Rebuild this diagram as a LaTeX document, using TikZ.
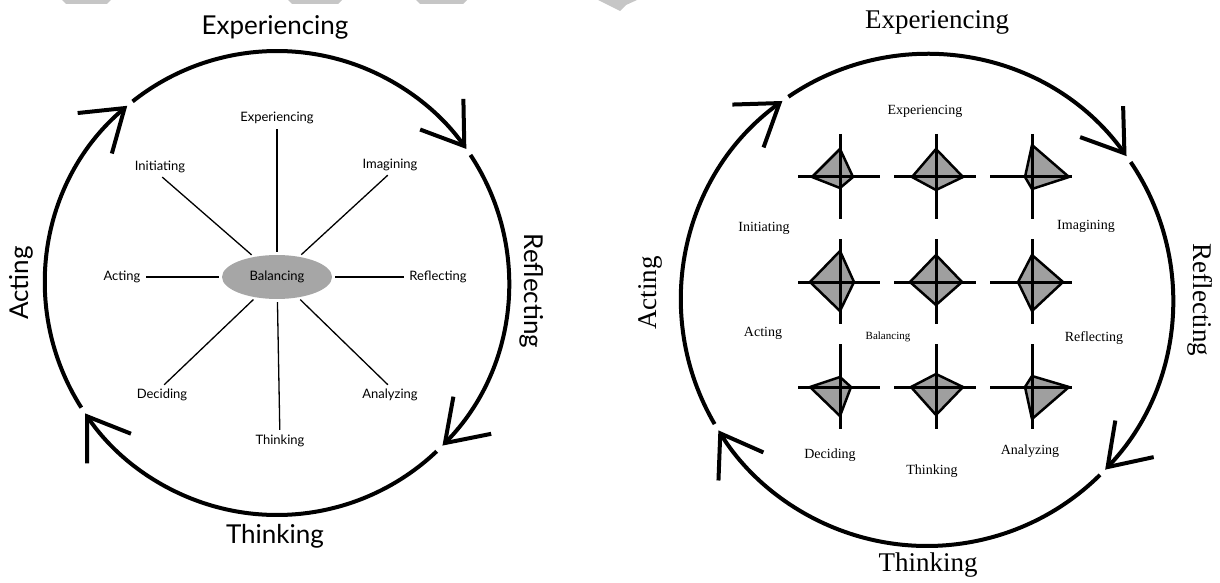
\documentclass[tikz,border=0pt]{standalone}
\usepackage{fontspec}
\setmainfont{Liberation Serif}
\newfontfamily\aptosfont{Lato}
\usetikzlibrary{arrows.meta, shapes.geometric}

\begin{document}
\begin{tikzpicture}[x=1pt, y=1pt,
    cycleArc/.style={line width=4pt, -{Straight Barb[length=39pt,width=53pt,line width=4pt]}},
    bigLabL/.style={font=\aptosfont\fontsize{26}{30}\selectfont},
    smallLabL/.style={font=\aptosfont\fontsize{13}{15}\selectfont, inner sep=2pt},
    bigLabR/.style={font=\fontsize{27}{32}\selectfont},
    smallLabR/.style={font=\fontsize{14}{16}\selectfont},
    spoke/.style={line width=1.3pt, shorten <=3pt, shorten >=3pt}]
    \useasboundingbox (0,0) rectangle (1220,582);
    % grey scraps along the top edge
    \fill[gray!45] (62,582) -- (111,582) -- (107,578) -- (66,578) -- cycle;
    \fill[gray!45] (288,582) -- (342,582) -- (338,578) -- (292,578) -- cycle;
    \fill[gray!45] (416,582) -- (467,582) -- (463,578) -- (420,578) -- cycle;
    \fill[gray!45] (598,582) -- (637,582) -- (626,577) -- (620,571) -- (610,576) -- cycle;

    % ---------- left cycle ----------
    \coordinate (cLPt) at (277,299);
    \foreach \a/\b in {212.5/130.2, 128.5/35.3, 33.5/-44.5, -46.5/-145.8}
    {
        \draw[cycleArc] (cLPt) ++(\a:232) arc[start angle=\a, end angle=\b, radius=232];
    };
    \node[bigLabL] (nExpL) at (275,555) {Experiencing};
    \node[bigLabL] (nThiL) at (275,46) {Thinking};
    \node[bigLabL, rotate=90] (nActL) at (21,299) {Acting};
    \node[bigLabL, rotate=-90] (nRefL) at (532,291) {Reflecting};

    \node[smallLabL, ellipse, fill=gray!70, minimum width=110pt, minimum height=44pt, inner sep=0pt] (nBalL) at (277,305) {Balancing};
    \foreach \n/\p/\t in
    {iExp/{(277,464)}/Experiencing,
        iIni/{(160,415)}/Initiating,
        iIma/{(390,417)}/Imagining,
        iAct/{(122,305)}/Acting,
        iRef/{(438,305)}/Reflecting,
        iDec/{(162,187)}/Deciding,
        iAna/{(390,187)}/Analyzing,
        iThi/{(280,141)}/Thinking
    }
    {
        \node[smallLabL] (\n) at \p {\t};
    };
    \draw[spoke] (nBalL) -- (iExp);
    \draw[spoke] (nBalL) -- (iIni.south);
    \draw[spoke] (nBalL) -- (iIma.south);
    \draw[spoke] (nBalL) -- (iAct);
    \draw[spoke] (nBalL) -- (iRef);
    \draw[spoke] (nBalL) -- (iDec.north);
    \draw[spoke] (nBalL) -- (iAna.north);
    \draw[spoke] (nBalL) -- (iThi);

    % ---------- right cycle ----------
    \coordinate (cRPt) at (927,282);
    \foreach \a/\b in {210.3/126, 124.3/35.8, 34.1/-43.6, -45.3/-148}
    {
        \draw[cycleArc] (cRPt) ++(\a:246) arc[start angle=\a, end angle=\b, radius=246];
    };
    \node[bigLabR] (nExpR) at (937,560) {Experiencing};
    \node[bigLabR] (nThiR) at (928,17) {Thinking};
    \node[bigLabR, rotate=90] (nActR) at (650,289) {Acting};
    \node[bigLabR, rotate=-90] (nRefR) at (1200,282) {Reflecting};

    % radar glyphs: centre x/y, up/right/down/left
    \foreach \gx/\gy/\gu/\gr/\gd/\gl in
    {840/405/28/13/11/28, 936/405/28/27/13/24, 1032/405/32/37/12/7,
        840/300/31/14/29/30, 936/300/27/26/23/26, 1032/300/27/31/29/14,
        840/195/10/11/29/30, 936/195/13/27/28/25, 1032/195/11/37/32/7}
    {
        \draw[line width=2.5pt, line join=round, fill=gray!75] (\gx,\gy+\gu) -- (\gx+\gr,\gy) -- (\gx,\gy-\gd) -- (\gx-\gl,\gy) -- cycle;
        \draw[line width=3pt] (\gx,\gy+43) -- (\gx,\gy-42) (\gx-42,\gy) -- (\gx+40,\gy);
    };
    \foreach \n/\p/\t in
    {rExp/{(925,471)}/Experiencing,
        rIni/{(764,354)}/Initiating,
        rIma/{(1086,356)}/Imagining,
        rAct/{(763,249)}/Acting,
        rRef/{(1094,244)}/Reflecting,
        rDec/{(830,127)}/Deciding,
        rThi/{(932,111)}/Thinking,
        rAna/{(1030,131)}/Analyzing
    }
    {
        \node[smallLabR] (\n) at \p {\t};
    };
    \node[font=\fontsize{11}{13}\selectfont] (rBal) at (888,245) {Balancing};
\end{tikzpicture}
\end{document}
